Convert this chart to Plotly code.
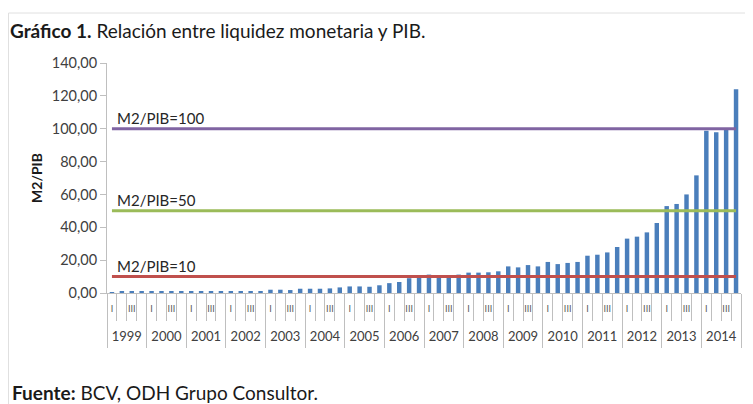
import plotly.graph_objects as go

# ---- data ----
years = ["1999", "2000", "2001", "2002", "2003", "2004", "2005", "2006",
         "2007", "2008", "2009", "2010", "2011", "2012", "2013", "2014"]
quarters = ["I", "II", "III", "IV"]
quarter_tick_text = ["I", "", "III", ""]
m2_pib = [
    0.6, 0.7, 0.7, 0.7,      # 1999
    0.7, 0.7, 0.7, 0.8,      # 2000
    0.7, 0.7, 0.8, 0.8,      # 2001
    0.8, 0.8, 0.8, 1.2,      # 2002
    2.0, 2.0, 1.8, 2.6,      # 2003
    2.6, 2.6, 2.8, 3.4,      # 2004
    4.0, 4.0, 3.8, 4.7,      # 2005
    6.0, 6.7, 9.0, 9.5,      # 2006
    11.2, 9.4, 9.3, 11.2,    # 2007
    12.4, 12.4, 12.6, 13.2,  # 2008
    16.2, 15.6, 17.0, 16.2,  # 2009
    18.9, 17.6, 18.3, 18.9,  # 2010
    22.7, 23.3, 24.7, 28.0,  # 2011
    33.1, 34.3, 36.9, 42.6,  # 2012
    52.9, 54.2, 60.0, 71.6,  # 2013
    98.8, 97.8, 99.2, 124.0, # 2014
]
thresholds = [100, 50, 10]
threshold_labels = ["M2/PIB=100", "M2/PIB=50", "M2/PIB=10"]
threshold_colors = ["#8064A2", "#9BBB59", "#C0504D"]
y_ticks = [0, 20, 40, 60, 80, 100, 120, 140]

categories = [f"{y}-{q}" for y in years for q in quarters]
tick_text = quarter_tick_text * len(years)
year_centers = [i + 0.5 for i in range(len(years))]
year_bounds = list(range(len(years) + 1))

# page body has an 8px margin: the figure is drawn 8px in from the top-left
OFF = 8
W, H = 753 - OFF, 404 - OFF
L, R, T, B = 107 - OFF, 753 - 741, 63 - OFF, 404 - 293
pw, ph = W - L - R, H - T - B


def px(xr):  # reference pixel x -> paper x
    return (xr - OFF - L) / pw


def py(yr):  # reference pixel y -> paper y
    return (H - B - (yr - OFF)) / ph


FONT = "Lato, Open Sans, sans-serif"

fig = go.Figure()
fig.add_trace(go.Bar(x=categories, y=m2_pib, marker_color="#4A7EBB",
                     marker_line_width=0, showlegend=False))
for val, lab, col in zip(thresholds, threshold_labels, threshold_colors):
    fig.add_trace(go.Scatter(x=categories, y=[val] * len(categories), mode="lines",
                             line=dict(color=col, width=3), showlegend=False,
                             hoverinfo="skip"))
    fig.add_annotation(x=categories[0], y=val, xref="x", yref="y", text=lab,
                       showarrow=False, xanchor="left", yanchor="bottom", xshift=3, yshift=0,
                       font=dict(family=FONT, size=15, color="#262626"))

# invisible helper trace so the year axis gets drawn
fig.add_trace(go.Scatter(x=year_centers, y=[0] * len(years), xaxis="x2", yaxis="y",
                         mode="markers", marker=dict(opacity=0), showlegend=False,
                         hoverinfo="skip"))

axis_gray = "#BFBFBF"
fig.update_layout(
    width=W, height=H,
    margin=dict(l=L, r=R, t=T, b=B, pad=0),
    paper_bgcolor="white", plot_bgcolor="white",
    separators=",.",
    bargap=0.55,
    font=dict(family=FONT, color="#404040"),
    title=dict(text="<b>Gráfico 1.</b> Relación entre liquidez monetaria y PIB.",
               x=(10 - OFF) / W, xanchor="left", xref="container",
               y=1 - (31 - OFF) / H, yanchor="middle", yref="container",
               font=dict(family=FONT, size=19, color="#1a1a1a")),
    xaxis=dict(type="category", categoryorder="array", categoryarray=categories,
               tickmode="array", tickvals=categories, ticktext=tick_text,
               tickson="boundaries", ticks="outside", ticklen=27, tickcolor=axis_gray,
               tickwidth=1, showline=True, linecolor=axis_gray, linewidth=1,
               tickangle=0, tickfont=dict(size=9, color="#595959"),
               ticklabelstandoff=7, showgrid=False, zeroline=False, automargin=False,
               range=[-0.5, len(categories) - 0.5]),
    xaxis2=dict(overlaying="x", anchor="y", side="bottom", type="linear",
                range=[0, len(years)], tickmode="array",
                tickvals=year_centers, ticktext=years,
                ticks="outside", ticklen=0, tickcolor="rgba(0,0,0,0)",
                minor=dict(tickmode="array", tickvals=year_bounds,
                           ticks="outside", ticklen=54, tickcolor=axis_gray, tickwidth=1),
                showline=False, showgrid=False, zeroline=False, automargin=False,
                tickfont=dict(size=13, color="#404040"), ticklabelstandoff=31),
    yaxis=dict(range=[0, 140], tickmode="array", tickvals=y_ticks, tickformat=".2f",
               ticks="outside", ticklen=6, tickcolor=axis_gray, showline=True,
               linecolor=axis_gray, linewidth=1, showgrid=False, zeroline=False,
               automargin=False,
               tickfont=dict(size=14.5, color="#404040"),
               title=dict(text="<b>M2/PIB</b>", standoff=5,
                          font=dict(size=14, color="#1a1a1a"))),
)

# light frame lines of the original figure box
fig.add_shape(type="line", xref="paper", yref="paper",
              x0=px(OFF + 0.5), x1=px(753), y0=py(13), y1=py(13),
              line=dict(color="#E0E0E0", width=1))
fig.add_shape(type="line", xref="paper", yref="paper",
              x0=px(OFF + 0.5), x1=px(OFF + 0.5), y0=py(13), y1=py(404),
              line=dict(color="#E0E0E0", width=1))

fig.add_annotation(xref="paper", yref="paper", x=px(10), y=py(392),
                   xanchor="left", yanchor="middle", showarrow=False,
                   text="<b>Fuente:</b> BCV, ODH Grupo Consultor.",
                   font=dict(family=FONT, size=19, color="#1a1a1a"))

fig.write_html("out.html")
